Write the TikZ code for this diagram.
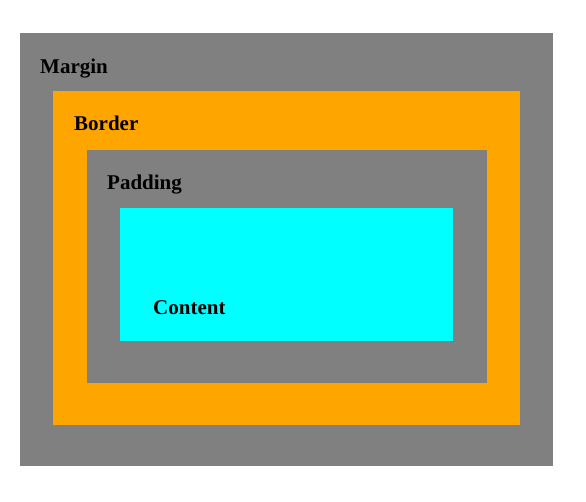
\documentclass[tikz,border=0pt]{standalone}
\usepackage{fontspec}
\setmainfont{Liberation Serif}
\usepackage{tikz}
\usetikzlibrary{positioning}
\definecolor{boxgray}{HTML}{808080}
\definecolor{boxorange}{HTML}{FFA500}
\definecolor{boxcyan}{HTML}{00FFFF}
\tikzset{
  layerlabel/.style={anchor=base west,inner sep=0pt,font=\fontsize{21}{24}\selectfont\bfseries}
}
\begin{document}
\begin{tikzpicture}[x=1pt,y=-1pt]
      \useasboundingbox (0,0) rectangle (586,502);
      \fill[boxgray]   (20,33)  rectangle (553,466);
      \fill[boxorange] (53,91)  rectangle (520,425);
      \fill[boxgray]   (87,150) rectangle (487,383);
      \fill[boxcyan]   (120,208) rectangle (453,341);

        \node[layerlabel] (margin)  at (40,73.5)  {Margin};
        \node[layerlabel] (border)  at (74,131)   {Border};
        \node[layerlabel] (padding) at (107,189.5) {Padding};
        \node[layerlabel] (content) at (153,314.5) {Content};
\end{tikzpicture}
\end{document}
